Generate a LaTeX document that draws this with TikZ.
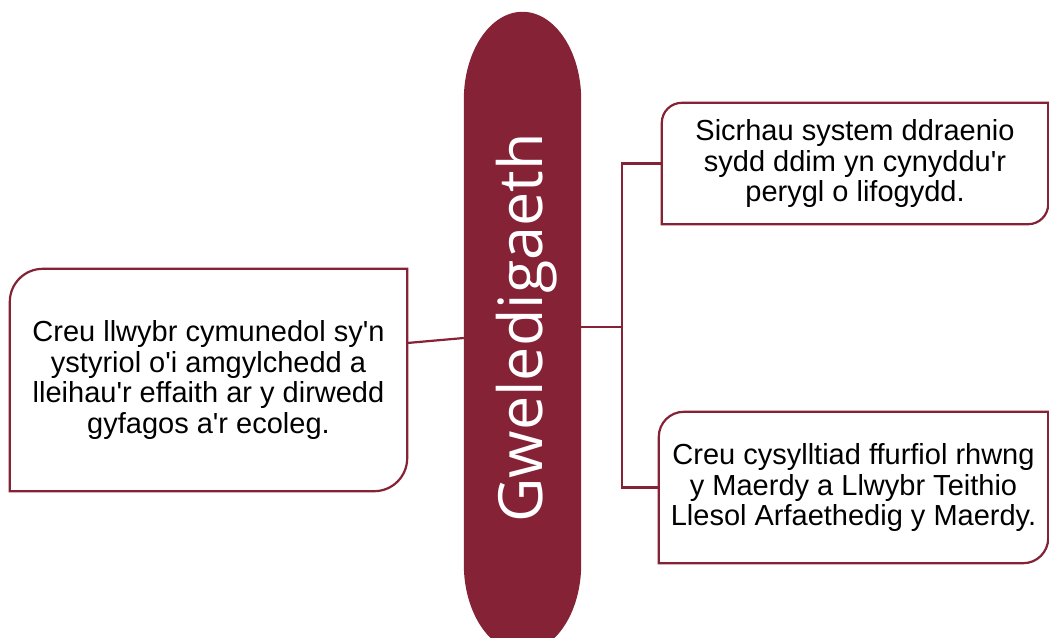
\documentclass[tikz,border=0pt]{standalone}
\usepackage{fontspec}
\setmainfont{Liberation Sans}
\newfontfamily\visfont{Open Sans}
\definecolor{maroon}{RGB}{134,34,54}
\newcommand{\ap}{\textquotesingle}
\tikzset{
  boxline/.style={draw=maroon, line width=2.2pt},
  conn/.style={draw=maroon, line width=2.2pt},
  textbox/.style={inner sep=0pt, align=center, font=\fontsize{29}{30.5}\selectfont, text=black},
}
% outline with rounded top-left and bottom-right corners
\newcommand{\halfround}[2]{%
  \draw[boxline] (#1.south west) -- ([yshift=-#2]#1.north west)
    .. controls ([yshift=-0.4477*#2]#1.north west) and ([xshift=0.4477*#2]#1.north west) .. ([xshift=#2]#1.north west)
    -- (#1.north east) -- ([yshift=#2]#1.south east)
    .. controls ([yshift=0.4477*#2]#1.south east) and ([xshift=-0.4477*#2]#1.south east) .. ([xshift=-#2]#1.south east)
    -- cycle;}
\begin{document}
\begin{tikzpicture}[x=1pt, y=-1pt]
\useasboundingbox (0,0) rectangle (1049,637);
\fill[white] (0,0) rectangle (1049,637);

% boxes
\node[textbox, minimum width=397pt, minimum height=222pt] (L) at (208.5,380)
  {Creu llwybr cymunedol sy\ap n\\ystyriol o\ap i amgylchedd a\\lleihau\ap r effaith ar y dirwedd\\gyfagos a\ap r ecoleg.};
\halfround{L}{33pt}

\node[textbox, minimum width=386pt, minimum height=121pt] (TR) at (855,163.5)
  {Sicrhau system ddraenio\\sydd ddim yn cynyddu\ap r\\perygl o lifogydd.};
\halfround{TR}{20pt}

\node[textbox, minimum width=389pt, minimum height=151pt] (BR) at (853.5,487.5)
  {Creu cysylltiad ffurfiol rhwng\\y Maerdy a Llwybr Teithio\\Llesol Arfaethedig y Maerdy.};
\halfround{BR}{25pt}

% central shape
\node[inner sep=0pt, minimum width=117pt, minimum height=640pt] (V) at (522.5,332) {};

% connectors
\coordinate (junc) at (622,327);
\draw[conn] ([yshift=37pt]L.east) -- ([yshift=-6pt]V.west);
\draw[conn] ([yshift=5pt]V.east) -- (junc);
\draw[conn] (junc) |- (TR.west);
\draw[conn] (junc) |- (BR.west);

\fill[maroon] ([yshift=-88pt]V.north west)
  .. controls ([yshift=-39.4pt]V.north west) and ([xshift=-32.3pt]V.north) .. (V.north)
  .. controls ([xshift=32.3pt]V.north) and ([yshift=-39.4pt]V.north east) .. ([yshift=-88pt]V.north east)
  -- ([yshift=88pt]V.south east)
  .. controls ([yshift=39.4pt]V.south east) and ([xshift=32.3pt]V.south) .. (V.south)
  .. controls ([xshift=-32.3pt]V.south) and ([yshift=39.4pt]V.south west) .. ([yshift=88pt]V.south west)
  -- cycle;
\node[rotate=90, anchor=base, inner sep=0pt, text=white, font=\visfont\fontsize{61}{70}\selectfont] (VT) at (542,328) {Gweledigaeth};
\end{tikzpicture}
\end{document}
